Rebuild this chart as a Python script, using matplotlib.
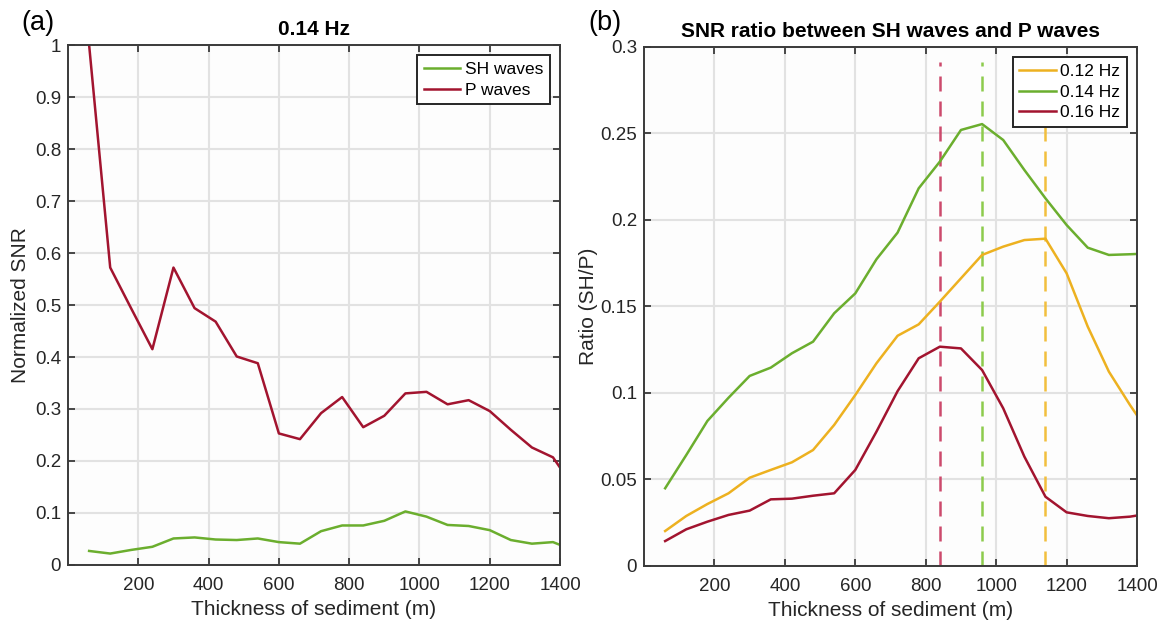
import numpy as np
import matplotlib
matplotlib.use("Agg")
import matplotlib.pyplot as plt

plt.rcParams['font.family'] = ['Liberation Sans', 'DejaVu Sans']

# ---------------- data ----------------
thickness_a = [60, 120, 180, 240, 300, 360, 420, 480, 540, 600, 660, 720, 780,
               840, 900, 960, 1020, 1080, 1140, 1200, 1260, 1320, 1380, 1440]
sh_waves = [0.027, 0.022, 0.029, 0.035, 0.051, 0.053, 0.049, 0.048, 0.051, 0.044,
            0.041, 0.065, 0.076, 0.076, 0.085, 0.103, 0.093, 0.077, 0.075, 0.067,
            0.048, 0.041, 0.044, 0.028]
p_waves = [1.0, 0.572, 0.493, 0.415, 0.572, 0.494, 0.468, 0.401, 0.388, 0.253,
           0.242, 0.292, 0.323, 0.265, 0.287, 0.330, 0.333, 0.309, 0.317, 0.296,
           0.260, 0.226, 0.207, 0.148]

thickness_b = thickness_a
ratio_012 = [0.0202, 0.0289, 0.0358, 0.0420, 0.0510, 0.0555, 0.0599, 0.0670,
             0.0815, 0.0988, 0.1171, 0.1330, 0.1396, 0.1527, 0.1662, 0.1797,
             0.1845, 0.1883, 0.1891, 0.1691, 0.1383, 0.1123, 0.0930, 0.0750]
ratio_014 = [0.0449, 0.0641, 0.0838, 0.0972, 0.1098, 0.1146, 0.1229, 0.1296,
             0.1460, 0.1575, 0.1772, 0.1926, 0.2182, 0.2336, 0.2519, 0.2553,
             0.2461, 0.2288, 0.2124, 0.1970, 0.1839, 0.1797, 0.1801, 0.1806]
ratio_016 = [0.0144, 0.0212, 0.0256, 0.0295, 0.0320, 0.0385, 0.0389, 0.0406,
             0.0420, 0.0555, 0.0776, 0.1010, 0.1200, 0.1267, 0.1257, 0.1132,
             0.0911, 0.0632, 0.0400, 0.0310, 0.0289, 0.0276, 0.0285, 0.0305]
peak_thickness = [1140, 960, 840]   # 0.12, 0.14, 0.16 Hz
peak_line_top = 0.291

freq_labels = ['0.12 Hz', '0.14 Hz', '0.16 Hz']

# ---------------- style ----------------
c_green = '#6BAE2E'
c_red = '#A2142F'
c_orange = '#EDB120'
dash_colors = ['#F2BF3E', '#8DCB4C', '#CC4A6C']
axis_col = '#3a3a3a'
grid_col = '#e2e2e2'
tick_fs = 13.5
label_fs = 15
title_fs = 15

fig = plt.figure(figsize=(11.65, 6.27), dpi=100)
ax1 = fig.add_axes([0.0584, 0.0989, 0.4223, 0.8293])
ax2 = fig.add_axes([0.5528, 0.0973, 0.4232, 0.8282])


def style(ax):
    ax.set_facecolor('#fdfdfd')
    for s in ax.spines.values():
        s.set_color(axis_col)
        s.set_linewidth(1.4)
        s.set_zorder(5)
    ax.tick_params(direction='in', length=5, width=1.3, colors=axis_col,
                   labelcolor='#262626', labelsize=tick_fs, top=True, right=True)
    ax.tick_params(axis='x', pad=9)
    ax.tick_params(axis='y', pad=5)
    ax.grid(True, color=grid_col, linewidth=1.5)
    ax.set_axisbelow(True)


def legend(ax):
    leg = ax.legend(loc='upper right', fontsize=12.5, frameon=True, fancybox=False,
                    edgecolor='#262626', framealpha=1, handlelength=2.1,
                    borderpad=0.38, labelspacing=0.32, handletextpad=0.25,
                    borderaxespad=0.6)
    leg.get_frame().set_linewidth(1.4)
    leg.set_zorder(10)
    return leg


# ---------- panel (a) ----------
style(ax1)
ax1.plot(thickness_a, sh_waves, color=c_green, lw=1.8, label='SH waves')
ax1.plot(thickness_a, p_waves, color=c_red, lw=1.8, label='P waves')
ax1.set_xlim(0, 1400)
ax1.set_ylim(0, 1)
ax1.set_xticks(np.arange(200, 1401, 200))
ax1.set_yticks(np.arange(0, 1.01, 0.1))
ax1.set_yticklabels(['0'] + ['%.1f' % v for v in np.arange(0.1, 0.95, 0.1)] + ['1'])
ax1.set_xlabel('Thickness of sediment (m)', fontsize=label_fs, color='#262626')
ax1.set_ylabel('Normalized SNR', fontsize=label_fs, color='#262626')
ax1.xaxis.set_label_coords(0.5, -0.068)
ax1.yaxis.set_label_coords(-0.078, 0.5)
ax1.set_title('0.14 Hz', fontsize=title_fs, fontweight='bold', pad=7)
legend(ax1)
fig.text(0.018, 0.952, '(a)', fontsize=19.5)

# ---------- panel (b) ----------
style(ax2)
for xv, dc in zip(peak_thickness, dash_colors):
    ax2.vlines(xv, 0, peak_line_top, colors=dc, linestyles=(0, (6, 4)), lw=1.8, zorder=2)
ax2.plot(thickness_b, ratio_012, color=c_orange, lw=1.8, label=freq_labels[0], zorder=3)
ax2.plot(thickness_b, ratio_014, color=c_green, lw=1.8, label=freq_labels[1], zorder=3)
ax2.plot(thickness_b, ratio_016, color=c_red, lw=1.8, label=freq_labels[2], zorder=3)
ax2.set_xlim(0, 1400)
ax2.set_ylim(0, 0.3)
ax2.set_xticks(np.arange(200, 1401, 200))
ax2.set_yticks(np.arange(0, 0.301, 0.05))
ax2.set_yticklabels(['0', '0.05', '0.1', '0.15', '0.2', '0.25', '0.3'])
ax2.set_xlabel('Thickness of sediment (m)', fontsize=label_fs, color='#262626')
ax2.set_ylabel('Ratio (SH/P)', fontsize=label_fs, color='#262626')
ax2.xaxis.set_label_coords(0.5, -0.068)
ax2.yaxis.set_label_coords(-0.093, 0.5)
ax2.set_title('SNR ratio between SH waves and P waves', fontsize=title_fs,
              fontweight='bold', pad=7)
legend(ax2)
fig.text(0.5047, 0.952, '(b)', fontsize=19.5)

fig.savefig('out.png', dpi=100)
